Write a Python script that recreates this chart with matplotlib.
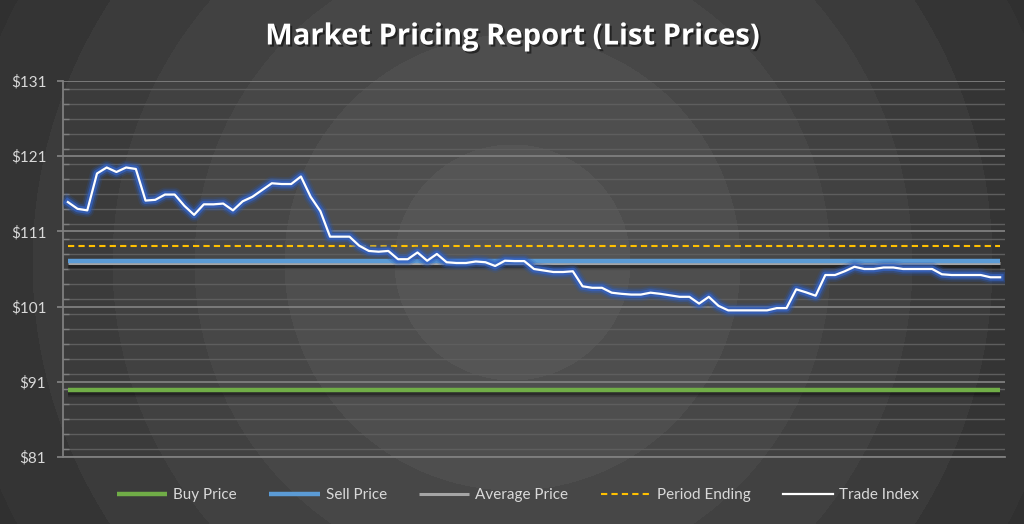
import numpy as np
import matplotlib
matplotlib.use("Agg")
import matplotlib.pyplot as plt
import matplotlib.patheffects as pe
from matplotlib.ticker import MultipleLocator, FuncFormatter

# ---- data ----
trade_index = [
    114.9, 114.0, 113.8, 118.7, 119.5, 118.9, 119.5, 119.3, 115.1, 115.2,
    115.9, 115.9, 114.4, 113.2, 114.6, 114.6, 114.7, 113.8, 115.0, 115.6,
    116.5, 117.4, 117.3, 117.3, 118.3, 115.6, 113.7, 110.3, 110.3, 110.3,
    109.1, 108.4, 108.3, 108.4, 107.3, 107.3, 108.2, 107.1, 108.0, 106.9,
    106.8, 106.8, 107.0, 106.9, 106.4, 107.1, 107.05, 107.05, 106.0, 105.8,
    105.6, 105.6, 105.7, 103.7, 103.5, 103.5, 102.85, 102.7, 102.6, 102.6,
    102.85, 102.7, 102.5, 102.3, 102.3, 101.4, 102.3, 101.1, 100.5, 100.5,
    100.5, 100.5, 100.5, 100.8, 100.8, 103.3, 102.9, 102.45, 105.2, 105.2,
    105.7, 106.3, 106.0, 106.0, 106.2, 106.2, 106.0, 106.0, 106.0, 106.0,
    105.3, 105.2, 105.2, 105.2, 105.2, 104.9, 104.9,
]
buy_price = 89.9
sell_price = 107.0
average_price = 106.8
period_ending = 109.1

y_ticks = [81, 91, 101, 111, 121, 131]
legend_labels = ["Buy Price", "Sell Price", "Average Price", "Period Ending", "Trade Index"]

TEXT = "#d9d9d9"
FONT = "Lato"

fig = plt.figure(figsize=(10.24, 5.24), dpi=100)

# radial ring background
W, H = 1024, 524
yy, xx = np.mgrid[0:H, 0:W]
r = np.hypot(xx - 512, yy - 262)
ring_edges = [118, 228, 318, 400, 480, 560]
ring_vals = [0.335, 0.305, 0.28, 0.255, 0.232, 0.21, 0.188]
bg = np.full(r.shape, ring_vals[-1])
for edge, val in zip(ring_edges[::-1], ring_vals[-2::-1]):
    bg[r < edge] = val
bg_ax = fig.add_axes([0, 0, 1, 1], zorder=-10)
bg_ax.imshow(bg, cmap="gray", vmin=0, vmax=1, aspect="auto", interpolation="bilinear")
bg_ax.axis("off")

ax = fig.add_axes([63 / 1024, 1 - 457 / 524, 942 / 1024, 376 / 524])
ax.patch.set_alpha(0)

n = len(trade_index)
x = np.arange(n)

shadow = [
    pe.SimpleLineShadow(offset=(0, -2.0), shadow_color="black", alpha=0.18, linewidth=6),
    pe.SimpleLineShadow(offset=(0, -2.0), shadow_color="black", alpha=0.3),
    pe.Normal(),
]
ax.plot(x, [buy_price] * n, color="#70ad47", lw=3.2, solid_capstyle="butt",
        path_effects=shadow, label=legend_labels[0], zorder=3)
ax.plot(x, [average_price] * n, color="#a5a5a5", lw=2.2, solid_capstyle="butt",
        path_effects=shadow, label=legend_labels[2], zorder=3)
ax.plot(x, [sell_price] * n, color="#5b9bd5", lw=3.2, solid_capstyle="butt",
        label=legend_labels[1], zorder=4)
ax.plot(x, [period_ending] * n, color="#ffc000", lw=1.5, ls=(0, (3, 2)),
        label=legend_labels[3], zorder=4)

glow = [
    pe.Stroke(linewidth=10, foreground="#2a55a8", alpha=0.2),
    pe.Stroke(linewidth=7.5, foreground="#2d5cb8", alpha=0.35),
    pe.Stroke(linewidth=5, foreground="#3563c4", alpha=0.75),
    pe.Normal(),
]
ax.plot(x, trade_index, color="white", lw=1.6, path_effects=glow,
        label=legend_labels[4], zorder=5)

ax.set_xlim(-0.5, n - 0.5)
ax.set_ylim(81, 131)
ax.set_yticks(y_ticks)
ax.yaxis.set_minor_locator(MultipleLocator(2))
ax.yaxis.set_major_formatter(FuncFormatter(lambda v, p: f"${v:.0f}"))
ax.set_xticks([])

ax.grid(True, which="major", axis="y", color="#7f7f7f", lw=1.3)
ax.grid(True, which="minor", axis="y", color="#5e5e5e", lw=1.0)
ax.set_axisbelow(True)

for side in ["top", "right"]:
    ax.spines[side].set_visible(False)
ax.spines["left"].set_color("#7f7f7f")
ax.spines["left"].set_linewidth(1.3)
ax.spines["bottom"].set_color("#7f7f7f")
ax.spines["bottom"].set_linewidth(1.3)

ax.tick_params(axis="y", which="major", direction="out", length=4, width=1.3,
               color="#7f7f7f", labelcolor=TEXT, labelsize=11, pad=8)
ax.tick_params(axis="y", which="minor", direction="in", length=4, width=1.0, color="#7f7f7f")
for lbl in ax.get_yticklabels():
    lbl.set_fontfamily(FONT)

# legend in the order shown
handles, labels = ax.get_legend_handles_labels()
order = [labels.index(l) for l in legend_labels]
leg = fig.legend([handles[i] for i in order], [labels[i] for i in order],
                 loc="center", bbox_to_anchor=(0.506, 1 - 495 / 524), ncol=5,
                 frameon=False, handlelength=3.3, handletextpad=0.4, columnspacing=2.1,
                 prop={"family": FONT, "size": 11})
for t in leg.get_texts():
    t.set_color(TEXT)
for h in leg.legend_handles:
    h.set_path_effects([])

fig.text(0.5, 1 - 37 / 524, "Market Pricing Report (List Prices)", ha="center", va="center",
         color="white", fontsize=21, fontweight="bold", fontfamily="Open Sans",
         path_effects=[pe.withSimplePatchShadow(offset=(1.5, -1.5), shadow_rgbFace="black", alpha=0.5)])

fig.savefig("out.png", dpi=100)
